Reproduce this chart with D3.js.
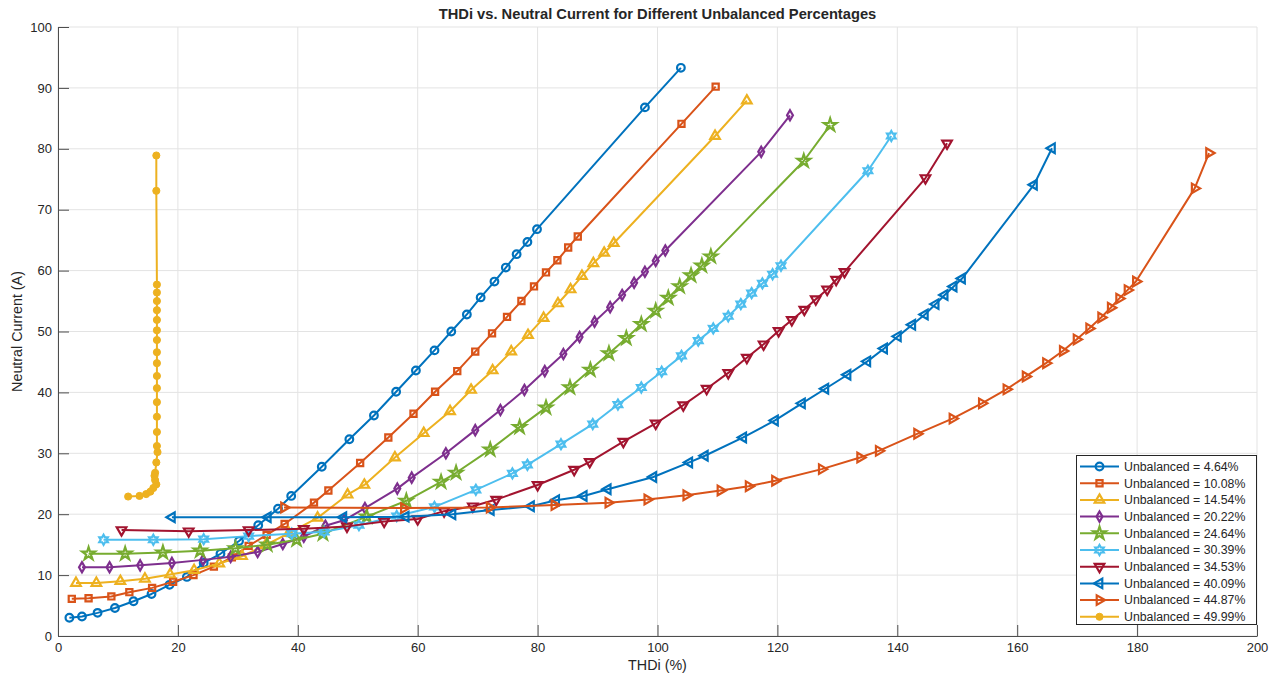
<!DOCTYPE html>
<html>
<head>
<meta charset="utf-8">
<script src="https://cdn.jsdelivr.net/npm/d3@7"></script>
<style>
  body { margin: 0; background: #fff; }
  text { font-family: "Liberation Sans", Arial, Helvetica, sans-serif; fill: #262626; }
</style>
</head>
<body>
<div id="canvas"></div>
<script>
// Chart size and plot box
var w = 1278;
var h = 679;
var margin = {top: 27, right: 21, bottom: 43, left: 58};

// Tick labels
const xTicks = [0, 20, 40, 60, 80, 100, 120, 140, 160, 180, 200];
const yTicks = [0, 10, 20, 30, 40, 50, 60, 70, 80, 90, 100];

// Legend labels
const labels = ["Unbalanced = 4.64%", "Unbalanced = 10.08%", "Unbalanced = 14.54%",
  "Unbalanced = 20.22%", "Unbalanced = 24.64%", "Unbalanced = 30.39%", "Unbalanced = 34.53%",
  "Unbalanced = 40.09%", "Unbalanced = 44.87%", "Unbalanced = 49.99%"];

// THDi (%) and neutral current (A) per unbalance level
const thd464 = [1.9, 4.0, 6.6, 9.5, 12.6, 15.6, 18.6, 21.5, 24.3, 27.1, 30.2, 33.4, 36.7, 38.9, 44.0, 48.6, 52.7, 56.4, 59.7, 62.8, 65.6, 68.2, 70.5, 72.8, 74.7, 76.5, 78.3, 79.9, 97.9, 103.9];
const cur464 = [3.0, 3.2, 3.8, 4.6, 5.7, 6.9, 8.4, 9.7, 12.0, 13.5, 15.6, 18.2, 20.9, 23.0, 27.8, 32.3, 36.2, 40.1, 43.6, 46.9, 50.0, 52.8, 55.6, 58.2, 60.5, 62.7, 64.7, 66.8, 86.8, 93.3];

const thd1008 = [2.3, 5.1, 8.9, 11.9, 15.7, 19.2, 22.6, 26.0, 29.0, 31.8, 34.8, 37.8, 42.7, 45.1, 50.4, 55.1, 59.3, 62.9, 66.6, 69.6, 72.4, 74.9, 77.3, 79.4, 81.4, 83.3, 85.1, 86.7, 104.0, 109.7];
const cur1008 = [6.1, 6.2, 6.5, 7.2, 7.9, 8.9, 10.0, 11.4, 12.9, 14.8, 16.6, 18.4, 21.9, 23.9, 28.4, 32.6, 36.5, 40.1, 43.5, 46.7, 49.7, 52.4, 55.0, 57.4, 59.7, 61.7, 63.8, 65.6, 84.1, 90.2];

const thd1454 = [3.0, 6.4, 10.4, 14.5, 18.7, 22.7, 26.9, 30.7, 34.6, 38.5, 43.3, 48.3, 51.1, 56.2, 61.0, 65.4, 68.9, 72.5, 75.6, 78.4, 81.0, 83.4, 85.5, 87.4, 89.3, 91.1, 92.7, 109.6, 114.9];
const cur1454 = [8.7, 8.7, 9.0, 9.4, 10.1, 10.8, 11.9, 13.1, 14.9, 16.9, 19.4, 23.2, 24.8, 29.3, 33.3, 36.9, 40.4, 43.6, 46.7, 49.4, 52.2, 54.6, 56.9, 59.1, 61.2, 62.9, 64.5, 82.1, 87.9];

const thd2022 = [4.0, 8.6, 13.7, 19.0, 24.2, 28.8, 33.3, 37.5, 41.0, 44.6, 47.7, 51.2, 56.6, 59.0, 64.7, 69.6, 73.8, 77.8, 81.2, 84.3, 87.0, 89.5, 92.1, 94.1, 96.1, 97.9, 99.7, 101.3, 117.3, 122.1];
const cur2022 = [11.3, 11.3, 11.6, 12.0, 12.5, 13.0, 13.8, 15.1, 16.3, 18.1, 19.0, 21.0, 24.2, 26.0, 30.0, 33.8, 37.1, 40.4, 43.5, 46.3, 49.1, 51.6, 54.0, 56.0, 58.0, 59.8, 61.6, 63.3, 79.5, 85.5];

const thd2464 = [5.1, 11.2, 17.5, 23.7, 29.6, 34.9, 39.8, 44.2, 51.5, 58.1, 63.9, 66.4, 72.1, 77.0, 81.4, 85.4, 88.8, 91.9, 94.8, 97.3, 99.7, 101.8, 103.7, 105.6, 107.4, 108.9, 124.4, 128.8];
const cur2464 = [13.5, 13.5, 13.7, 14.0, 14.4, 15.0, 15.8, 16.8, 19.6, 22.2, 25.3, 26.8, 30.6, 34.3, 37.5, 40.8, 43.7, 46.4, 48.9, 51.2, 53.4, 55.5, 57.4, 59.2, 60.8, 62.3, 78.0, 83.9];

const thd3039 = [7.6, 15.9, 24.3, 31.8, 39.0, 44.4, 50.2, 56.5, 62.8, 69.7, 75.8, 78.3, 83.9, 89.2, 93.4, 97.3, 100.7, 104.0, 106.8, 109.3, 111.8, 113.9, 115.7, 117.5, 119.2, 120.6, 135.1, 139.0];
const cur3039 = [15.8, 15.8, 15.9, 16.4, 16.8, 17.1, 18.2, 19.7, 21.2, 24.0, 26.7, 28.1, 31.5, 34.8, 38.0, 40.8, 43.4, 46.0, 48.5, 50.5, 52.5, 54.5, 56.3, 57.9, 59.4, 60.8, 76.4, 82.1];

const thd3453 = [10.6, 21.8, 31.8, 41.0, 48.2, 54.4, 60.0, 64.4, 69.2, 73.1, 80.0, 86.1, 88.7, 94.3, 99.7, 104.3, 108.2, 111.8, 114.9, 117.7, 120.2, 122.4, 124.5, 126.4, 128.3, 129.8, 131.2, 144.7, 148.3];
const cur3453 = [17.4, 17.2, 17.4, 17.6, 18.0, 18.8, 19.2, 20.5, 21.3, 22.4, 24.8, 27.3, 28.6, 31.9, 34.9, 37.9, 40.6, 43.2, 45.7, 47.9, 50.1, 51.9, 53.6, 55.3, 56.9, 58.5, 59.8, 75.2, 80.9];

const thd4009 = [19.0, 35.0, 47.6, 58.0, 65.8, 72.2, 78.9, 83.1, 87.7, 91.7, 99.3, 105.3, 107.9, 114.3, 119.6, 124.1, 128.0, 131.7, 135.0, 137.8, 140.1, 142.5, 144.6, 146.4, 147.9, 149.4, 150.8, 162.8, 165.8];
const cur4009 = [19.5, 19.5, 19.5, 19.6, 20.0, 20.7, 21.3, 22.3, 23.0, 24.1, 26.1, 28.5, 29.6, 32.6, 35.4, 38.2, 40.6, 42.9, 45.1, 47.2, 49.2, 51.1, 52.8, 54.5, 56.0, 57.4, 58.7, 74.1, 80.1];

const thd4487 = [37.7, 57.7, 72.0, 82.8, 91.8, 98.3, 104.8, 110.5, 115.2, 119.6, 127.4, 133.8, 136.9, 143.3, 149.2, 154.1, 158.2, 161.4, 164.8, 167.6, 169.9, 172.0, 174.0, 175.6, 177.0, 178.4, 179.8, 189.6, 192.0];
const cur4487 = [21.1, 21.0, 21.1, 21.5, 21.9, 22.4, 23.1, 23.9, 24.6, 25.5, 27.4, 29.3, 30.4, 33.2, 35.7, 38.2, 40.5, 42.6, 44.8, 46.8, 48.7, 50.5, 52.3, 53.9, 55.4, 56.8, 58.2, 73.5, 79.3];

const thd4999 = [11.7, 13.6, 14.7, 15.4, 15.9, 16.4, 16.2, 16.1, 16.2, 16.4, 16.6, 16.5, 16.5, 16.5, 16.5, 16.5, 16.5, 16.5, 16.5, 16.5, 16.5, 16.5, 16.5, 16.5, 16.5, 16.5, 16.4, 16.4];
const cur4999 = [22.9, 23.0, 23.3, 23.7, 24.3, 24.9, 25.6, 26.3, 26.8, 28.5, 30.2, 31.2, 33.5, 36.0, 38.4, 40.7, 42.7, 44.8, 46.6, 48.6, 50.2, 51.9, 53.5, 55.0, 56.4, 57.7, 73.1, 78.9];

const thdAll = [thd464, thd1008, thd1454, thd2022, thd2464, thd3039, thd3453, thd4009, thd4487, thd4999];
const curAll = [cur464, cur1008, cur1454, cur2022, cur2464, cur3039, cur3453, cur4009, cur4487, cur4999];

// MATLAB default line colours
const colors = ["#0072BD", "#D95319", "#EDB120", "#7E2F8E", "#77AC30", "#4DBEEE", "#A2142F", "#0072BD", "#D95319", "#EDB120"];

// six pointed star (MATLAB 'h' marker)
const symbolHexagram = {
  draw(ctx, size) {
    var r = Math.sqrt(size) * 0.62;
    for (var k = 0; k < 12; k++) {
      var a = k * Math.PI / 6 - Math.PI / 2;
      var rr = k % 2 ? r * 0.577 : r;
      if (k == 0) ctx.moveTo(rr * Math.cos(a), rr * Math.sin(a));
      else ctx.lineTo(rr * Math.cos(a), rr * Math.sin(a));
    }
    ctx.closePath();
  }
};

// marker per series: o s ^ d p h v < > .
const markers = [
  {type: d3.symbolCircle, size: 46, rot: 0},
  {type: d3.symbolSquare, size: 38, rot: 0},
  {type: d3.symbolTriangle, size: 40, rot: 0},
  {type: d3.symbolDiamond, size: 30, rot: 0},
  {type: d3.symbolStar, size: 50, rot: 0},
  {type: symbolHexagram, size: 64, rot: 0},
  {type: d3.symbolTriangle, size: 40, rot: 180},
  {type: d3.symbolTriangle, size: 40, rot: -90},
  {type: d3.symbolTriangle, size: 40, rot: 90},
  {type: d3.symbolCircle, size: 40, rot: 0, filled: true}
];

var innerWidth = w - margin.left - margin.right;
var innerHeight = h - margin.top - margin.bottom;

var svg = d3.select("#canvas")
    .append("svg")
    .attr("width", w)
    .attr("height", h)
    .style("background-color", "#fff");

let x_scale = d3.scaleLinear()
    .domain([0, 200])
    .range([margin.left, margin.left + innerWidth]);

let y_scale = d3.scaleLinear()
    .domain([0, 100])
    .range([margin.top + innerHeight, margin.top]);

// grid
svg.append("g").selectAll("line")
    .data(xTicks)
    .join("line")
    .attr("x1", d => x_scale(d)).attr("x2", d => x_scale(d))
    .attr("y1", margin.top).attr("y2", margin.top + innerHeight)
    .attr("stroke", "#e3e3e3").attr("stroke-width", 1);

svg.append("g").selectAll("line")
    .data(yTicks)
    .join("line")
    .attr("x1", margin.left).attr("x2", margin.left + innerWidth)
    .attr("y1", d => y_scale(d)).attr("y2", d => y_scale(d))
    .attr("stroke", "#e3e3e3").attr("stroke-width", 1);

// axes, ticks pointing inward
var xAxis = svg.append("g")
    .attr("transform", `translate(0,${margin.top + innerHeight})`)
    .call(d3.axisBottom(x_scale).tickValues(xTicks).tickSizeInner(-11).tickSizeOuter(0).tickPadding(7));

var yAxis = svg.append("g")
    .attr("transform", `translate(${margin.left},0)`)
    .call(d3.axisLeft(y_scale).tickValues(yTicks).tickSizeInner(-11).tickSizeOuter(0).tickPadding(6));

[xAxis, yAxis].forEach(a => {
  a.attr("font-size", 13).attr("font-family", '"Liberation Sans", Arial, sans-serif');
  a.select(".domain").attr("stroke", "#4d4d4d");
  a.selectAll(".tick line").attr("stroke", "#4d4d4d");
  a.selectAll(".tick text").attr("fill", "#262626");
});

// series
var line = d3.line().x(d => x_scale(d[0])).y(d => y_scale(d[1]));

function markerPath(m) {
  return d3.symbol().type(m.type).size(m.size)();
}

labels.forEach((label, i) => {
  var pts = thdAll[i].map((v, j) => [v, curAll[i][j]]);
  var g = svg.append("g");
  g.append("path")
    .datum(pts)
    .attr("d", line)
    .attr("fill", "none")
    .attr("stroke", colors[i])
    .attr("stroke-width", 2)
    .attr("stroke-linejoin", "round");
  var m = markers[i];
  g.selectAll("path.mk")
    .data(pts)
    .join("path")
    .attr("class", "mk")
    .attr("d", markerPath(m))
    .attr("transform", d => `translate(${x_scale(d[0])},${y_scale(d[1])}) rotate(${m.rot})`)
    .attr("fill", m.filled ? colors[i] : "none")
    .attr("stroke", colors[i])
    .attr("stroke-width", m.filled ? 1 : 2.2);
});

// title and axis labels
svg.append("text")
    .attr("x", x_scale(100)).attr("y", 19)
    .attr("text-anchor", "middle")
    .style("font-size", "14.7px").style("font-weight", "bold")
    .text("THDi vs. Neutral Current for Different Unbalanced Percentages");

svg.append("text")
    .attr("x", x_scale(100)).attr("y", 670)
    .attr("text-anchor", "middle")
    .style("font-size", "14.3px")
    .text("THDi (%)");

svg.append("text")
    .attr("transform", `translate(22,${y_scale(50)}) rotate(-90)`)
    .attr("text-anchor", "middle")
    .style("font-size", "14.3px")
    .text("Neutral Current (A)");

// legend
var lg = svg.append("g");
lg.append("rect")
    .attr("x", 1076.5).attr("y", 455.5)
    .attr("width", 180).attr("height", 169)
    .attr("fill", "#fff").attr("stroke", "#262626").attr("stroke-width", 1);

labels.forEach((label, i) => {
  var yy = 466.5 + i * 16.7;
  var m = markers[i];
  lg.append("line")
    .attr("x1", 1080).attr("x2", 1119).attr("y1", yy).attr("y2", yy)
    .attr("stroke", colors[i]).attr("stroke-width", 2);
  lg.append("path")
    .attr("d", markerPath(m))
    .attr("transform", `translate(1099.5,${yy}) rotate(${m.rot})`)
    .attr("fill", m.filled ? colors[i] : "none")
    .attr("stroke", colors[i])
    .attr("stroke-width", m.filled ? 1 : 2.2);
  lg.append("text")
    .attr("x", 1124).attr("y", yy)
    .attr("dy", "0.35em")
    .style("font-size", "12.3px")
    .text(label);
});
</script>
</body>
</html>
